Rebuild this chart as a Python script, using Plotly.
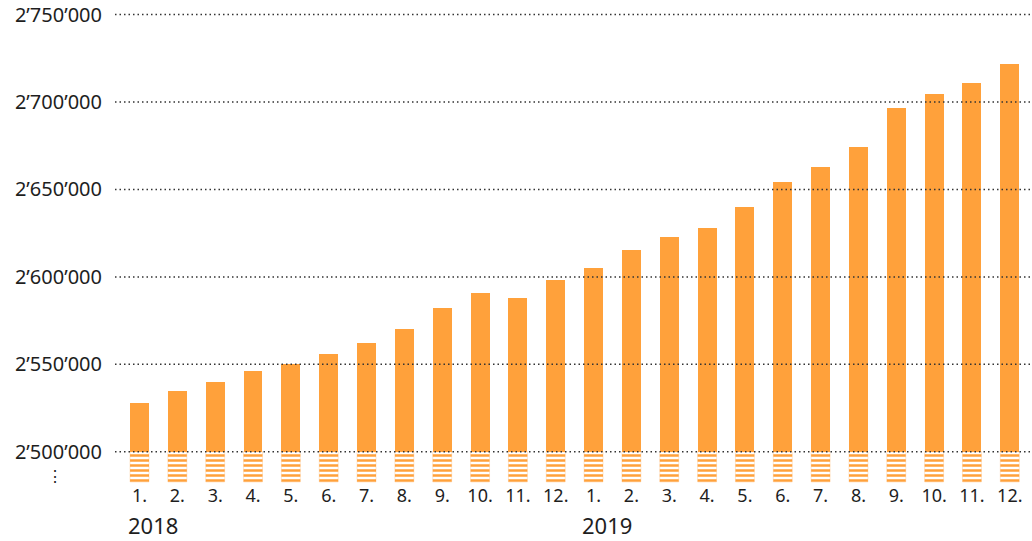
import plotly.graph_objects as go

# ---- data ----
months = ["1.", "2.", "3.", "4.", "5.", "6.", "7.", "8.", "9.", "10.", "11.", "12.",
          "1.", "2.", "3.", "4.", "5.", "6.", "7.", "8.", "9.", "10.", "11.", "12."]
years = ["2018", "2019"]
values = [2527900, 2534800, 2539900, 2546200, 2550200, 2555900, 2562200, 2570200,
          2582300, 2590800, 2588000, 2598300,
          2605100, 2615400, 2622900, 2628000, 2640000, 2654300, 2662900, 2674300,
          2696700, 2704700, 2711000, 2721800]
tick_vals = [2500000, 2550000, 2600000, 2650000, 2700000, 2750000]
tick_text = ["2’500’000", "2’550’000", "2’600’000", "2’650’000", "2’700’000", "2’750’000"]

# ---- style ----
ORANGE = "#FFA13B"
TEXT = "#1e1e1e"
FONT = "Noto Sans"
BASE = 2500000
Y_RANGE = [2482159, 2753716]
X_RANGE = [-0.648, 23.587]

x = list(range(len(values)))

fig = go.Figure()
# solid part above the axis break
fig.add_trace(go.Bar(
    x=x, y=[v - BASE for v in values], base=BASE, width=0.5,
    marker=dict(color=ORANGE, line=dict(width=0)),
    hoverinfo="skip", showlegend=False,
))
# striped part below the axis break
fig.add_trace(go.Bar(
    x=x, y=[BASE - (Y_RANGE[0] + 600)] * len(x), base=Y_RANGE[0] + 600, width=0.5,
    marker=dict(color=ORANGE,
                line=dict(width=1, color="rgba(255,161,59,0.25)"),
                pattern=dict(shape="-", fgcolor=ORANGE, bgcolor="white",
                             size=5, solidity=0.5, fillmode="replace")),
    hoverinfo="skip", showlegend=False,
))

# dotted gridlines above bars
for tv in tick_vals:
    fig.add_shape(type="line", xref="paper", x0=0, x1=1, yref="y", y0=tv, y1=tv,
                  line=dict(color="#333333", width=1.5, dash="1.5px,3px"), layer="above")

annotations = []
for i, yr in enumerate(years):
    annotations.append(dict(x=i * 12 - 0.35, xref="x", xanchor="left",
                            y=-0.0884, yref="paper", yanchor="middle",
                            text=yr, showarrow=False,
                            font=dict(family=FONT, size=22, color=TEXT)))
annotations.append(dict(x=-0.0654, xref="paper", xanchor="center",
                        y=0.0147, yref="paper", yanchor="middle",
                        text="⋮", showarrow=False,
                        font=dict(family=FONT, size=16, color=TEXT)))

fig.update_layout(
    width=1032, height=541,
    margin=dict(l=115, r=0, t=8, b=58, autoexpand=False),
    paper_bgcolor="white", plot_bgcolor="white",
    barmode="overlay", bargap=0,
    hovermode=False,
    font=dict(family=FONT, color=TEXT),
    annotations=annotations,
    xaxis=dict(range=X_RANGE, tickmode="array", tickvals=x, ticktext=months,
               showgrid=False, zeroline=False, showline=False, ticks="",
               automargin=False,
               tickfont=dict(size=18, color=TEXT, family=FONT), fixedrange=True),
    yaxis=dict(range=Y_RANGE, tickmode="array", tickvals=tick_vals, ticktext=tick_text,
               showgrid=False, zeroline=False, showline=False, ticks="",
               ticklabelstandoff=12, automargin=False,
               tickfont=dict(size=20, color=TEXT, family=FONT), fixedrange=True),
)

# remove the browser's default 8px page margin so the figure fills the window
fig.write_html("out.html",
               config={"displayModeBar": False, "staticPlot": True},
               post_script="document.body.style.margin='0';document.body.style.overflow='hidden';")
